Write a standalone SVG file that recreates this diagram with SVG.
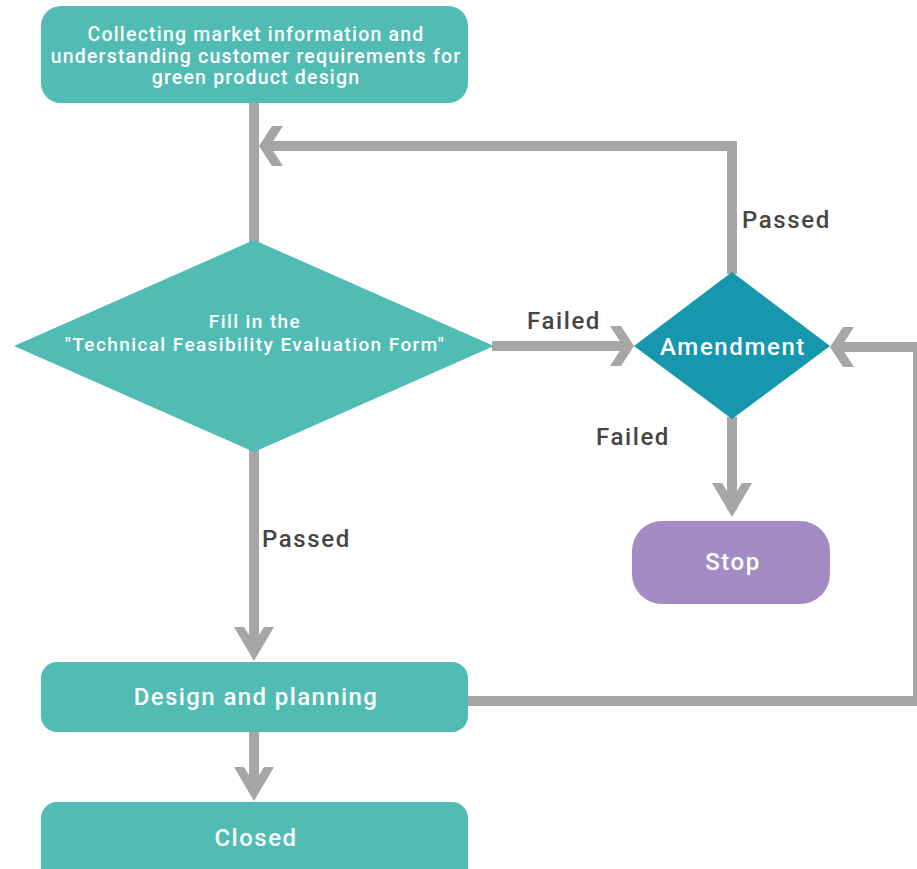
<svg xmlns="http://www.w3.org/2000/svg" width="917" height="869" viewBox="0 0 917 869">
<defs>
<style>
.teal{fill:#50BCB4}
.amend{fill:#1697AE}
.stop{fill:#A48BC3}
.ln{fill:none;stroke:#A5A6A5;stroke-width:10}
.ah{fill:#A5A6A5}
.wt{fill:#FFFFFF;font-family:Roboto,"Liberation Sans",sans-serif;text-anchor:middle;font-weight:500}
.lb{fill:#454545;font-family:Roboto,"Liberation Sans",sans-serif;font-size:24px;letter-spacing:1.6px;font-weight:500}
</style>
<polygon id="ahH" points="0,0 -13,-20 -24,-20 -11,0 -24,20 -13,20"/>
<polygon id="ahV" points="0,0 -20,-34 -10,-34 0,-18 10,-34 20,-34"/>
</defs>
<rect width="917" height="869" fill="#FFFFFF"/>
<g id="connectors">
<path class="ln" d="M254,103 V242"/>
<path class="ln" d="M732,274 V146 H262"/>
<use href="#ahH" class="ah" transform="translate(259,146) rotate(180)"/>
<path class="ln" d="M492,346 H628"/>
<use href="#ahH" class="ah" transform="translate(634,346)"/>
<path class="ln" d="M732,417 V510"/>
<use href="#ahV" class="ah" transform="translate(732,517)"/>
<path class="ln" d="M254,450 V652"/>
<use href="#ahV" class="ah" transform="translate(254,661)"/>
<path class="ln" d="M468,701 H918 V347 H838"/>
<use href="#ahH" class="ah" transform="translate(830,347) rotate(180)"/>
<path class="ln" d="M254,732 V792"/>
<use href="#ahV" class="ah" transform="translate(254,801)"/>
</g>
<g id="labels">
<text class="lb" x="742" y="228">Passed</text>
<text class="lb" x="527" y="329">Failed</text>
<text class="lb" x="596" y="445">Failed</text>
<text class="lb" x="262" y="547">Passed</text>
</g>
<g id="node-collect">
<rect class="teal" x="41" y="6" width="427" height="97" rx="20"/>
<text class="wt" font-size="19.5" letter-spacing="1.2"><tspan x="256" y="41">Collecting market information and</tspan><tspan x="256" y="63">understanding customer requirements for</tspan><tspan x="256" y="84">green product design</tspan></text>
</g>
<g id="node-evaluate">
<polygon class="teal" points="14,346 254,240 494,346 254,452"/>
<text class="wt" font-size="19" letter-spacing="1.4"><tspan x="255" y="328">Fill in the</tspan><tspan x="255" y="351">"Technical Feasibility Evaluation Form"</tspan></text>
</g>
<g id="node-amendment">
<polygon class="amend" points="634,346 732,272 830,346 732,419"/>
<text class="wt" x="733" y="355" font-size="24" letter-spacing="1.6">Amendment</text>
</g>
<g id="node-stop">
<rect class="stop" x="632" y="521" width="198" height="83" rx="30"/>
<text class="wt" x="733" y="570" font-size="24" letter-spacing="1.5">Stop</text>
</g>
<g id="node-design">
<rect class="teal" x="41" y="662" width="427" height="70" rx="16"/>
<text class="wt" x="256" y="705" font-size="24" letter-spacing="1.4">Design and planning</text>
</g>
<g id="node-closed">
<rect class="teal" x="41" y="802" width="427" height="90" rx="16"/>
<text class="wt" x="256" y="846" font-size="24" letter-spacing="1.5">Closed</text>
</g>
</svg>
